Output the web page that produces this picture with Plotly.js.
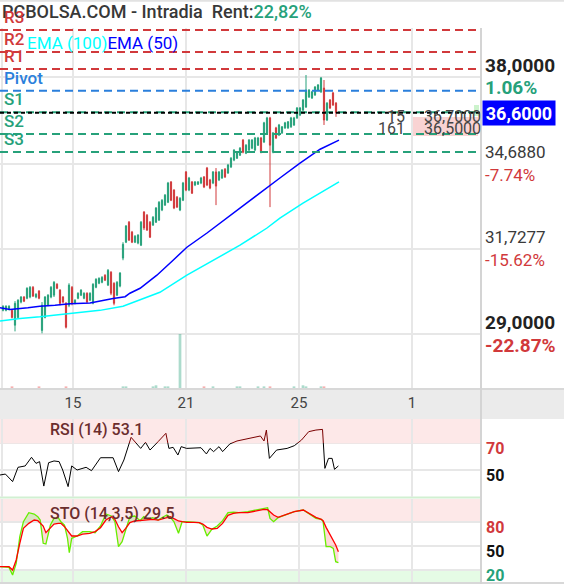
<!DOCTYPE html>
<html><head><meta charset="utf-8">
<script src="https://cdn.plot.ly/plotly-3.0.1.min.js"></script>
<style>html,body{margin:0;padding:0;background:#fff}#chart{width:564px;height:584px}</style>
</head><body><div id="chart"></div>
<script>
// ---- candle data (one bar per intraday period) ----
const candleOpen = [29.73,29.73,29.76,29.73,29.27,29.51,29.99,30.15,30.11,30.15,
30.46,30.15,30.34,29.11,29.51,29.89,30.15,30.21,30.56,30.37,
30.15,29.95,29.89,30.46,29.95,30.11,30.21,30.11,30.27,30.05,
29.95,30.46,30.59,30.62,30.85,30.53,30.95,30.59,30.21,30.50,
31.41,31.94,32.62,32.28,31.94,31.91,31.84,32.97,32.86,32.62,
32.52,32.62,32.69,33.04,33.21,33.31,34.03,33.74,33.49,33.04,
33.38,34.39,33.74,34.03,33.92,33.95,33.99,34.21,34.53,34.10,
33.99,34.39,34.10,34.17,34.49,34.35,34.57,34.82,34.89,35.00,
35.56,35.07,35.19,35.26,35.19,35.37,35.64,35.49,35.83,36.40,
35.11,36.02,35.75,35.83,36.02,36.02,36.06,36.13,36.40,36.51,
36.70,36.82,37.21,37.17,37.29,37.48,37.41,37.56,36.32,37.09,
37.37,36.97];
const candleHigh = [29.89,29.89,29.89,29.76,30.02,30.08,30.18,30.18,30.46,30.50,
30.50,30.27,30.37,29.99,30.18,30.24,30.50,30.66,30.59,30.40,
30.18,29.99,30.59,30.50,30.08,30.30,30.40,30.30,30.30,30.30,
30.59,30.75,30.78,30.82,30.88,31.05,30.98,30.62,30.66,30.95,
31.94,32.52,32.66,32.32,32.18,32.21,32.66,33.00,32.90,32.66,
32.83,33.14,33.35,33.42,33.60,34.03,34.06,33.77,33.53,33.49,
34.03,34.42,34.21,34.06,34.06,34.06,34.21,34.24,34.57,34.14,
34.42,34.53,34.42,34.49,34.53,34.68,34.93,35.22,35.15,35.30,
35.60,35.41,35.60,35.60,35.68,35.68,35.68,36.25,36.44,36.44,
35.86,36.06,36.17,36.09,36.25,36.28,36.44,36.44,36.82,36.82,
37.13,38.08,37.52,37.45,37.64,37.72,38.00,37.88,37.01,37.13,
37.41,37.01];
const candleLow = [29.70,29.70,29.73,29.48,29.08,29.48,29.95,29.99,30.08,30.11,
30.15,30.11,30.08,29.02,29.48,29.86,30.11,30.15,30.40,29.89,
29.95,29.17,29.83,29.89,29.92,30.08,30.18,30.08,29.95,30.02,
29.92,30.43,30.56,30.59,30.66,30.50,30.21,29.89,30.18,30.46,
31.34,31.91,31.98,31.91,31.91,31.87,31.81,32.35,32.32,32.08,
32.49,32.59,32.66,33.00,33.18,33.28,33.35,33.07,33.11,33.00,
33.35,33.70,33.70,33.60,33.88,33.92,33.95,33.81,33.88,33.77,
33.95,33.21,34.06,34.14,34.17,34.32,34.53,34.78,34.86,34.97,
35.07,35.04,35.15,35.22,35.15,35.34,35.07,35.45,35.79,33.14,
35.07,35.60,35.71,35.79,35.98,35.98,36.02,36.09,36.36,36.47,
36.66,36.78,37.17,37.13,37.25,37.45,37.37,36.13,36.28,36.74,
36.86,36.44];
const candleClose = [29.86,29.86,29.86,29.51,29.95,30.05,30.15,30.02,30.43,30.46,
30.18,30.24,30.11,29.89,30.15,30.21,30.46,30.62,30.43,29.95,
29.99,29.21,30.53,29.95,30.05,30.27,30.37,30.27,29.99,30.27,
30.56,30.72,30.75,30.78,30.69,31.01,30.27,29.95,30.62,30.92,
31.87,32.49,32.01,31.94,32.14,32.18,32.62,32.42,32.35,32.11,
32.79,33.11,33.31,33.38,33.56,33.99,33.38,33.11,33.14,33.45,
33.99,33.74,34.17,33.63,34.03,34.03,34.17,33.85,33.92,33.81,
34.39,33.88,34.39,34.46,34.21,34.64,34.89,35.19,35.11,35.26,
35.11,35.37,35.56,35.56,35.64,35.64,35.11,36.21,36.40,35.37,
35.83,35.64,36.13,36.06,36.21,36.25,36.40,36.40,36.78,36.78,
37.09,37.48,37.48,37.41,37.60,37.68,37.96,36.32,36.97,36.78,
36.90,36.60];

// ---- volume (only visible bars) ----
const volIdx = [3,12,21,40,41,50,51,54,55,59,67,70,78,79,85,87,89,97,100,101,106,107];
const volVal = [3,3,3,3,3,3,5,3,3,100,3,3,3,3,3,3,3,3,5,3,3,3];

// ---- moving averages (read at points) ----
const ema50X = [-1,2.3,8.3,12.3,17.3,22.3,29,32.3,36.7,40.7,42.3,45.7,51.3,56.7,61.3,68,76.7,83.3,88,92.3,99,105.7,112];
const ema50 = [29.81,29.76,29.81,29.86,29.89,29.94,29.96,30.03,30.10,30.16,30.27,30.43,30.85,31.34,31.77,32.25,32.93,33.45,33.85,34.17,34.71,35.22,35.56];
const ema100X = [-1,5.7,12.3,22.3,32.3,40,42.3,43.3,52.3,61.3,70,79,88,92.3,100,105.7,112];
const ema100 = [29.40,29.48,29.53,29.63,29.73,29.86,29.94,29.99,30.30,30.85,31.34,31.84,32.42,32.76,33.28,33.63,34.03];

// ---- pivot levels ----
const pivotNames = ['R3','R2','R1','Pivot','S1','S2','S3'];
const pivotLevels = [39.93,39.01,38.32,37.45,36.62,35.79,35.12];
const lastPrice = 36.60;

// ---- right axis labels ----
const priceTicks = [38, 34.688, 31.7277, 29];
const priceTickText = ['38,0000','34,6880','31,7277','29,0000'];
const pctText = ['1.06%','-7.74%','-15.62%','-22.87%'];

// ---- time axis ----
const xTickPos = [-0.33, 23.33, 61, 98.67, 136.33];
const xTickText = ['', '15', '21', '25', '1'];

// ---- RSI(14) ----
const rsiX = [-1,0.8,3.2,5,7.4,9.5,11,12.2,13.6,15.2,17,18.7,19.9,21.7,22.9,24.7,27.7,29.5,32.5,36.7,38.5,40.3,42.7,44.5,45.9,47.5,49,51.7,54.3,55.3,56.7,58.3,59.4,61.2,66,67.8,69,70.2,72,73.2,75.6,78,82.8,85.8,87,87.8,88.8,91.2,94.7,97.1,99.5,101.9,104.3,106.5,107.3,108.5,109.7,110.5,111.8];
const rsiVal = [46.3,47.0,41.4,52.0,53.0,59.4,54.9,56.2,38.1,55.4,56.7,56.2,50.0,37.7,53.0,50.0,52.0,49.5,59.1,59.1,48.8,57.4,74.2,69.3,66.0,70.5,64.8,71.0,77.2,66.0,66.8,61.1,67.3,66.0,66.5,61.9,66.0,63.6,67.3,63.6,69.3,71.5,73.5,75.2,71.5,79.6,58.6,64.8,66.0,68.0,72.2,78.4,79.6,80.1,51.2,58.6,58.6,50.5,53.0];

// ---- Stochastic (14,3,5) ----
const stoX = [-1,2.0,3.2,4.4,5.6,6.8,8.6,10.4,11.6,12.4,13.4,14.3,15.8,17.0,18.4,19.3,20.5,21.5,22.1,22.9,24.7,26.5,28.9,30.7,32.5,34.3,36.1,37.3,38.5,39.7,40.9,42.3,43.9,45.7,46.9,48.3,49.9,51.7,53.5,54.6,55.8,57.0,58.5,59.7,61.2,63.6,65.4,66.6,68.0,69.6,71.4,73.2,75.0,76.8,78.6,81.6,84.0,87.0,88.2,89.0,90.2,91.7,94.1,97.1,100.1,102.5,104.3,106.1,106.7,107.7,109.1,110.1,110.9,111.8];
const stoK = [24.2,23.3,13.7,28.4,62.0,80.8,92.2,90.5,87.1,82.9,53.6,52.7,76.6,85.0,85.9,80.8,76.6,59.9,41.8,59.9,62.8,68.3,68.3,67.0,75.4,90.5,88.0,80.8,49.4,55.7,70.3,87.1,88.0,82.1,87.1,83.8,85.9,82.9,87.1,89.2,86.3,80.8,66.2,80.8,80.8,79.6,79.6,76.6,62.8,71.2,75.4,82.1,92.2,93.0,92.2,93.4,95.5,97.6,98.5,85.0,80.8,85.9,89.2,93.4,95.5,89.2,85.0,83.8,80.8,49.4,49.4,47.3,30.5,29.2];
const stoD = [24.2,24.2,20.0,32.6,53.6,72.4,78.7,82.9,82.1,78.7,75.4,67.0,73.7,77.9,78.7,78.7,74.5,69.5,67.0,62.8,62.8,65.3,66.2,68.3,73.3,82.9,87.1,83.8,74.5,67.0,72.4,79.6,81.7,82.1,82.9,83.4,83.8,82.9,84.6,86.3,87.1,84.6,81.7,80.8,80.0,80.0,79.6,77.9,73.7,71.6,72.4,78.7,88.8,91.3,92.2,92.2,94.3,96.4,95.9,93.4,89.2,86.3,89.2,93.4,95.5,90.5,86.3,83.8,82.1,73.7,64.1,57.8,51.5,43.1];

// ---------------------------------------------------------------
const GREEN = '#26a17a', RED = '#d1393b', BLUE = '#2a7fdc', GRID = '#e7e7e7';
const FONT = 'Roboto, "Noto Sans", sans-serif';
const H = 584, W = 564, PW = 480;
const py = p => 1 - p / H;        // pixel row -> paper y
const px = p => p / PW;           // pixel col -> paper x
const idx = candleOpen.map((_, i) => i);
const XR = [-1, 159];

const traces = [];
traces.push({type:'bar', x: volIdx, y: volVal, xaxis:'x2', yaxis:'y2', width: 0.9,
  marker:{color: volIdx.map(i => candleClose[i] >= candleOpen[i] ? 'rgba(38,161,122,0.38)' : 'rgba(235,80,80,0.45)'), line:{width:0}},
  hoverinfo:'skip'});
traces.push({type:'scatter', mode:'lines', x: ema100X, y: ema100, xaxis:'x', yaxis:'y', line:{color:'#00ffff', width:1.5}, hoverinfo:'skip'});
traces.push({type:'scatter', mode:'lines', x: ema50X, y: ema50, xaxis:'x', yaxis:'y', line:{color:'#0000ff', width:1.5}, hoverinfo:'skip'});
traces.push({type:'candlestick', x: idx, open: candleOpen, high: candleHigh, low: candleLow, close: candleClose,
  xaxis:'x', yaxis:'y', whiskerwidth: 0,
  increasing:{line:{color:GREEN, width:1}, fillcolor:GREEN},
  decreasing:{line:{color:RED, width:1}, fillcolor:RED}, hoverinfo:'skip'});
const pivColors = [RED, RED, RED, BLUE, GREEN, GREEN, GREEN];
pivotLevels.forEach((lv, k) => {
  traces.push({type:'scatter', mode:'lines', x: XR, y:[lv, lv], xaxis:'x', yaxis:'y',
    line:{color: pivColors[k], width:2, dash:'8px,5px'}, hoverinfo:'skip'});
});
traces.push({type:'scatter', mode:'lines', x: XR, y:[lastPrice, lastPrice], xaxis:'x', yaxis:'y',
  line:{color:'#000', width:2, dash:'4px,3px'}, hoverinfo:'skip'});
// RSI: lower part black, upper (>70) dark red, each clipped in its own sub-panel
traces.push({type:'scatter', mode:'lines', x: rsiX, y: rsiVal, xaxis:'x', yaxis:'y3', line:{color:'#000', width:1}, hoverinfo:'skip'});
traces.push({type:'scatter', mode:'lines', x: rsiX, y: rsiVal, xaxis:'x', yaxis:'y4', line:{color:'#7a0000', width:1}, hoverinfo:'skip'});
// STO fills
const kMax = stoK.map((k, i) => Math.max(k, stoD[i]));
const kMin = stoK.map((k, i) => Math.min(k, stoD[i]));
traces.push({type:'scatter', mode:'lines', x: stoX, y: stoD, xaxis:'x', yaxis:'y5', line:{width:0}, hoverinfo:'skip'});
traces.push({type:'scatter', mode:'lines', x: stoX, y: kMax, xaxis:'x', yaxis:'y5', line:{width:0}, fill:'tonexty', fillcolor:'rgba(140,220,100,0.3)', hoverinfo:'skip'});
traces.push({type:'scatter', mode:'lines', x: stoX, y: stoD, xaxis:'x', yaxis:'y5', line:{width:0}, hoverinfo:'skip'});
traces.push({type:'scatter', mode:'lines', x: stoX, y: kMin, xaxis:'x', yaxis:'y5', line:{width:0}, fill:'tonexty', fillcolor:'rgba(255,120,120,0.28)', hoverinfo:'skip'});
traces.push({type:'scatter', mode:'lines', x: stoX, y: stoK, xaxis:'x', yaxis:'y5', line:{color:'#66ee00', width:1.3}, hoverinfo:'skip'});
traces.push({type:'scatter', mode:'lines', x: stoX, y: stoD, xaxis:'x', yaxis:'y5', line:{color:'#ff0000', width:1.3}, hoverinfo:'skip'});

const L10 = v => Math.log10(v);
const ann = [];
ann.push({xref:'paper', yref:'paper', x:0, y:py(12), xanchor:'left', yanchor:'middle', showarrow:false,
  text:'PCBOLSA.COM - Intradia\u00a0\u00a0Rent:<span style="color:' + GREEN + '">22,82%</span>',
  font:{family:FONT, size:18, color:'#383838', weight:500}});
ann.push({xref:'paper', yref:'paper', x:px(25), y:py(43), xanchor:'left', yanchor:'middle', showarrow:false,
  text:'<span style="color:#00ffff">EMA (100)</span><span style="color:#0000ff">EMA (50)</span>',
  font:{family:FONT, size:17}});
pivotNames.forEach((nm, k) => {
  ann.push({xref:'paper', yref:'y', x:px(2), y:L10(pivotLevels[k]), yshift:13, xanchor:'left', yanchor:'middle', showarrow:false,
    text:nm, font:{family:FONT, size:17, color:pivColors[k], weight:500}});
});
priceTicks.forEach((v, k) => {
  const bold = (k === 0 || k === 3);
  ann.push({xref:'paper', yref:'y', x:px(483), y:L10(v), yshift:11.5, xanchor:'left', yanchor:'middle', showarrow:false,
    text: priceTickText[k], font:{family:FONT, size: bold ? 19 : 17, color: bold ? '#222' : '#3a3a3a', weight: bold ? 700 : 400}});
  ann.push({xref:'paper', yref:'y', x:px(483), y:L10(v), yshift:-11, xanchor:'left', yanchor:'middle', showarrow:false,
    text: pctText[k], font:{family:FONT, size: bold ? 19 : 17, color: k === 0 ? GREEN : RED, weight: bold ? 700 : 400}});
});
// order book snippet
ann.push({xref:'paper', yref:'paper', x:px(407), y:py(116), xanchor:'right', yanchor:'middle', showarrow:false, text:'15', font:{family:FONT, size:16, color:'#444'}});
ann.push({xref:'paper', yref:'paper', x:px(422), y:py(116), xanchor:'left', yanchor:'middle', showarrow:false, text:'36,7000', font:{family:FONT, size:16, color:'#444'}});
ann.push({xref:'paper', yref:'paper', x:px(407), y:py(128.5), xanchor:'right', yanchor:'middle', showarrow:false, text:'161', font:{family:FONT, size:16, color:'#444'}});
ann.push({xref:'paper', yref:'paper', x:px(422), y:py(128.5), xanchor:'left', yanchor:'middle', showarrow:false, text:'36,5000', font:{family:FONT, size:16, color:'#444'}});
// current price box
ann.push({xref:'paper', yref:'y', x:px(482), y:L10(lastPrice), xanchor:'left', yanchor:'middle', showarrow:false,
  text:'36,6000', width:72, height:24, bgcolor:'#0000ff', borderpad:0, align:'center',
  font:{family:FONT, size:18, color:'#fff', weight:700}});
// RSI / STO labels
ann.push({xref:'paper', yref:'paper', x:px(48), y:py(429), xanchor:'left', yanchor:'middle', showarrow:false,
  text:'RSI (14) 53.1', font:{family:FONT, size:16, color:'#6b2d2d', weight:500}});
ann.push({xref:'paper', yref:'paper', x:px(48), y:py(513), xanchor:'left', yanchor:'middle', showarrow:false,
  text:'STO (14,3,5) 29.5', font:{family:FONT, size:16, color:'#6b2d2d', weight:500}});
[[70,'y3',RED],[50,'y3','#111']].forEach(a => ann.push({xref:'paper', yref:a[1], x:px(484), y:a[0], yshift:-5, xanchor:'left', yanchor:'middle', showarrow:false,
  text:String(a[0]), font:{family:FONT, size:16, color:a[2], weight:700}}));
[[80,RED],[50,'#111'],[20,GREEN]].forEach(a => ann.push({xref:'paper', yref:'y5', x:px(484), y:a[0], yshift:-5, xanchor:'left', yanchor:'middle', showarrow:false,
  text:String(a[0]), font:{family:FONT, size:16, color:a[1], weight:700}}));

const shapes = [
  {type:'rect', xref:'paper', yref:'paper', x0:0, x1:W/PW, y0:py(419), y1:py(389), fillcolor:'#ebebeb', line:{width:0}, layer:'below'},
  {type:'line', xref:'paper', yref:'paper', x0:0, x1:W/PW, y0:py(389), y1:py(389), line:{color:'#d8d8d8', width:2}, layer:'below'},
  {type:'line', xref:'paper', yref:'paper', x0:0, x1:W/PW, y0:py(0.8), y1:py(0.8), line:{color:'#e2e2e2', width:2}},
  {type:'rect', xref:'paper', yref:'y4', x0:0, x1:1, y0:70, y1:87.8, fillcolor:'#fde8e8', line:{width:0}, layer:'below'},
  {type:'line', xref:'paper', yref:'y3', x0:0, x1:1, y0:70, y1:70, line:{color:'#e9dede', width:1.5}, layer:'below'},
  {type:'line', xref:'paper', yref:'paper', x0:0, x1:1, y0:py(497.5), y1:py(497.5), line:{color:'#d2f0d2', width:2}, layer:'below'},
  {type:'rect', xref:'paper', yref:'y5', x0:0, x1:1, y0:80, y1:109.4, fillcolor:'#fde8e8', line:{width:0}, layer:'below'},
  {type:'rect', xref:'paper', yref:'y5', x0:0, x1:1, y0:4.9, y1:20, fillcolor:'#e5fbe5', line:{width:0}, layer:'below'},
  {type:'line', xref:'paper', yref:'paper', x0:0, x1:W/PW, y0:py(583), y1:py(583), line:{color:'#d8d8d8', width:2}},
  {type:'line', xref:'paper', yref:'paper', x0:px(481), x1:px(481), y0:0, y1:py(28), line:{color:'#d4d4d4', width:2}},
  {type:'rect', xref:'paper', yref:'paper', x0:px(412), x1:px(478), y0:py(136), y1:py(117), fillcolor:'#f9d3d3', line:{width:0}, layer:'below'},
  {type:'rect', xref:'paper', yref:'paper', x0:px(474), x1:px(479), y0:py(116), y1:py(105), fillcolor:'#ccf3cc', line:{width:0}, layer:'below'}
];

const gridAx = {showgrid:true, gridcolor:GRID, gridwidth:2, zeroline:false, showline:false, ticks:'', fixedrange:true};
const layout = {
  width:W, height:H, margin:{l:0, r:84, t:0, b:0, pad:0},
  paper_bgcolor:'#fff', plot_bgcolor:'rgba(0,0,0,0)', showlegend:false, boxgap:0.45,
  font:{family:FONT},
  xaxis: Object.assign({}, gridAx, {domain:[0,1], range:XR, anchor:'y', tickmode:'array', tickvals:xTickPos, ticktext:xTickText,
    tickfont:{family:FONT, size:15, color:'#444'}, ticklabelstandoff:4, rangeslider:{visible:false}}),
  xaxis2: {matches:'x', anchor:'y2', visible:false, fixedrange:true},
  yaxis: Object.assign({}, gridAx, {domain:[py(388), py(28)], type:'log', range:[1.43774, 1.60216], anchor:'x', side:'right',
    tickmode:'array', tickvals:priceTicks, showticklabels:false}),
  yaxis2: {domain:[py(388), py(334)], range:[0,100], anchor:'x2', visible:false, fixedrange:true},
  yaxis3: Object.assign({}, gridAx, {domain:[py(497), py(443)], range:[30,70], anchor:'x', tickmode:'array', tickvals:[50], showticklabels:false}),
  yaxis4: Object.assign({}, gridAx, {domain:[py(443), py(419)], range:[70,87.8], anchor:'x', showgrid:false, showticklabels:false}),
  yaxis5: Object.assign({}, gridAx, {domain:[py(582), py(499)], range:[4.9,109.4], anchor:'x', tickmode:'array', tickvals:[20,50,80], showticklabels:false}),
  annotations: ann,
  shapes: shapes
};
Plotly.newPlot('chart', traces, layout, {staticPlot:true, displayModeBar:false});
</script>
</body></html>
